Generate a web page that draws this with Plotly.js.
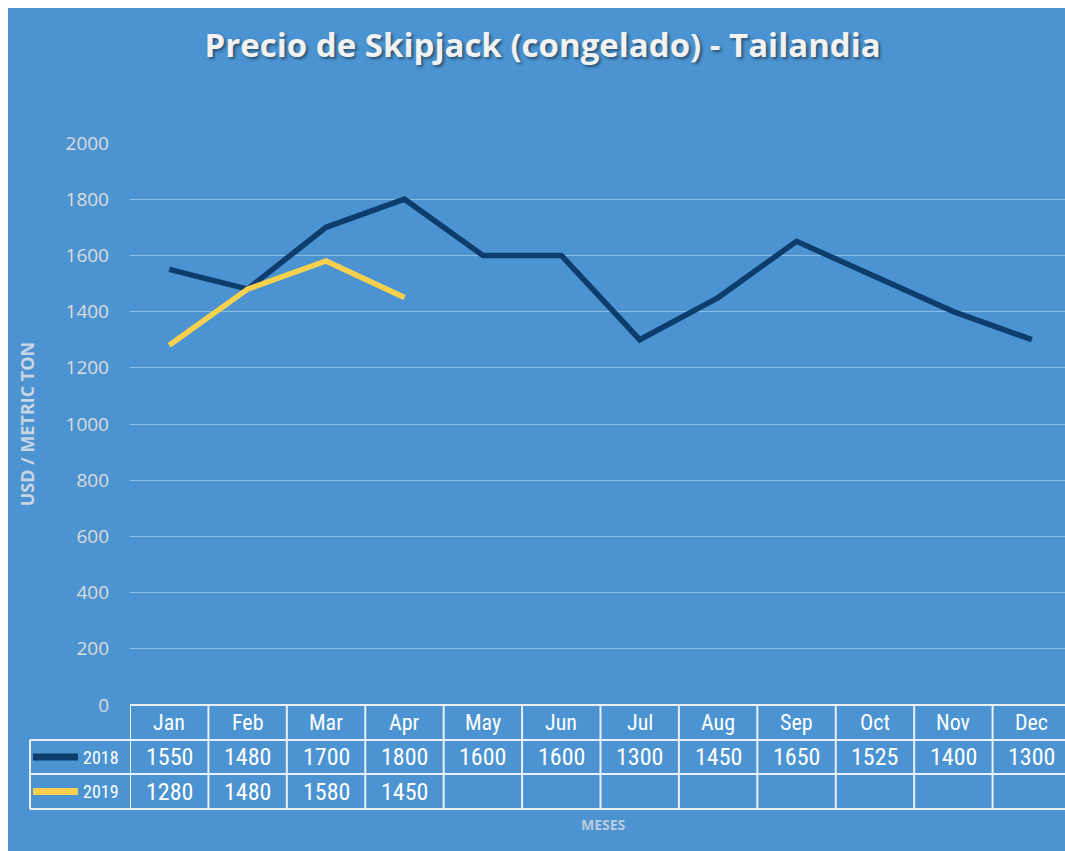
<!DOCTYPE html>
<html><head><meta charset="utf-8">
<script src="https://cdn.plot.ly/plotly-3.0.1.min.js"></script>
<style>
html,body{margin:0;padding:0;background:#ffffff;overflow:hidden;width:1065px;height:851px}
#chart{position:absolute;left:8px;top:8px;width:1063px;height:843px}
</style>
</head><body><div id="chart"></div>
<script>
// ---- data ----
const months = ['Jan','Feb','Mar','Apr','May','Jun','Jul','Aug','Sep','Oct','Nov','Dec'];
const values2018 = [1550,1480,1700,1800,1600,1600,1300,1450,1650,1525,1400,1300];
const values2019 = [1280,1480,1580,1450];
const seriesNames = ['2018','2019'];
const yTicks = [0,200,400,600,800,1000,1200,1400,1600,1800,2000];

// ---- style ----
const BG = '#4b94d1';
const COL2018 = '#0c3d6c';
const COL2019 = '#f7d04d';
const GRID = '#8cbbe4';
const TABLE_LINE = '#e8f0f8';
const TXT = '#ffffff';
const tableFont = '"Liberation Sans Narrow","Arial Narrow","Roboto Condensed",Roboto,sans-serif';

const seriesValues = [values2018, values2019];
const seriesColors = [COL2018, COL2019];

// table row boundaries (paper y)
const rowY = [0, -0.0623, -0.1228, -0.1851];
const legendLeft = -0.1063;

const traces = seriesValues.map((vals, i) => ({
  type: 'scatter', mode: 'lines',
  x: months.slice(0, vals.length), y: vals,
  name: seriesNames[i],
  line: {color: seriesColors[i], width: 5.5},
  showlegend: false, hoverinfo: 'x+y+name'
}));

const shapes = [];
// horizontal table lines
shapes.push({type:'line', xref:'paper', yref:'paper', x0:0, x1:1, y0:rowY[0], y1:rowY[0], line:{color:TABLE_LINE, width:2}});
for (let r = 1; r < rowY.length; r++) {
  shapes.push({type:'line', xref:'paper', yref:'paper', x0:legendLeft, x1:1, y0:rowY[r], y1:rowY[r], line:{color:TABLE_LINE, width:2}});
}
// vertical table lines at category boundaries
for (let i = 0; i <= months.length; i++) {
  shapes.push({type:'line', xref:'x', yref:'paper', x0:i-0.5, x1:i-0.5, y0:rowY[3], y1:rowY[0], line:{color:TABLE_LINE, width:2}});
}
// legend column left border
shapes.push({type:'line', xref:'paper', yref:'paper', x0:legendLeft, x1:legendLeft, y0:rowY[3], y1:rowY[1], line:{color:TABLE_LINE, width:2}});

const annotations = [];
// header row
months.forEach(m => annotations.push({
  x: m, xref:'x', yref:'paper', y:(rowY[0]+rowY[1])/2, text:m, showarrow:false,
  font:{family:tableFont, size:22, color:TXT}, xanchor:'center', yanchor:'middle'
}));
// value rows + legend keys
seriesValues.forEach((vals, s) => {
  const yc = (rowY[s+1]+rowY[s+2])/2;
  vals.forEach((v, i) => annotations.push({
    x: months[i], xref:'x', yref:'paper', y:yc, text:String(v), showarrow:false,
    font:{family:tableFont, size:24, color:TXT}, xanchor:'center', yanchor:'middle'
  }));
  annotations.push({
    x:-0.0096, xref:'paper', yref:'paper', y:yc, text:seriesNames[s], showarrow:false,
    font:{family:tableFont, size:18, color:TXT}, xanchor:'right', yanchor:'middle'
  });
  shapes.push({type:'line', xref:'paper', yref:'paper', x0:-0.1031, x1:-0.0553, y0:yc, y1:yc,
    line:{color:seriesColors[s], width:7}});
});
// x-axis title
annotations.push({
  x:0.5027, xref:'paper', yref:'paper', y:-0.2135, text:'MESES', showarrow:false,
  font:{family:'Open Sans, sans-serif', size:14, weight:700, color:'#bccbdb'}, xanchor:'center', yanchor:'middle'
});

const layout = {
  width:1063, height:843,
  margin:{l:122, r:0, t:135, b:146, pad:0},
  paper_bgcolor:BG, plot_bgcolor:BG,
  title:{
    text:'Precio de Skipjack (congelado) - Tailandia',
    xref:'container', yref:'container', x:0.503, y:0.956, xanchor:'center', yanchor:'middle',
    font:{family:'Open Sans, sans-serif', size:33, weight:700, color:'#f2f2f2', shadow:'2px 2px 3px rgba(0,0,0,0.45)'}
  },
  xaxis:{
    type:'category', categoryorder:'array', categoryarray:months,
    range:[-0.5, months.length-0.5], showticklabels:false, showgrid:false, zeroline:false,
    showline:false, ticks:'', fixedrange:true
  },
  yaxis:{
    range:[0,2000], tickvals:yTicks, ticktext:yTicks.map(String),
    showgrid:true, gridcolor:GRID, gridwidth:1, zeroline:false, showline:false, ticks:'',
    ticklabelstandoff:20,
    tickfont:{family:'Open Sans, sans-serif', size:19, color:'#dcdcdc'},
    title:{text:'USD / METRIC TON', standoff:26,
      font:{family:'Open Sans, sans-serif', size:18, weight:700, color:'#c9d5e2'}},
    fixedrange:true
  },
  shapes:shapes,
  annotations:annotations,
  showlegend:false
};

Plotly.newPlot('chart', traces, layout, {displayModeBar:false, staticPlot:true});
</script>
</body></html>
